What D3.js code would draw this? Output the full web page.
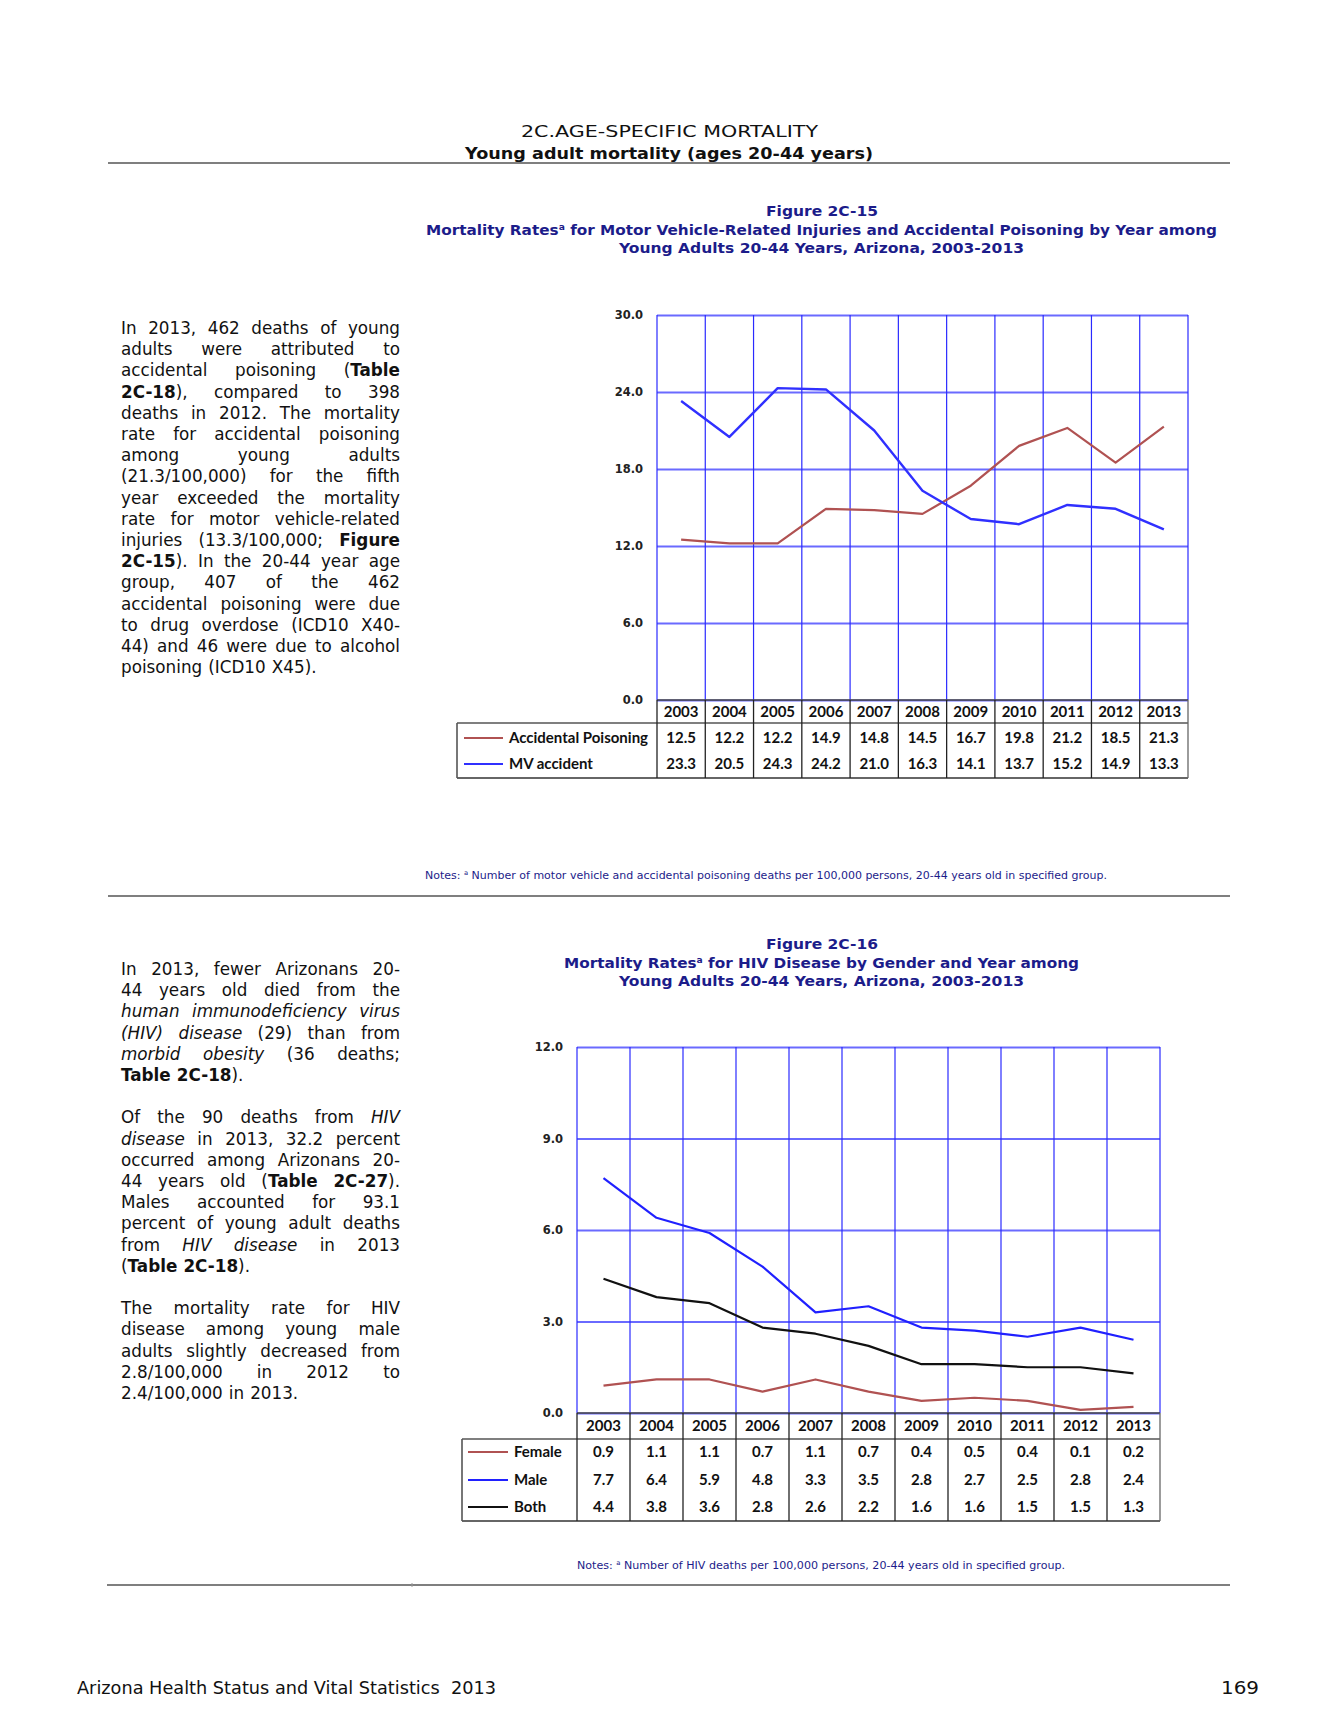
<!DOCTYPE html>
<html>
<head>
<meta charset="utf-8">
<script src="https://cdn.jsdelivr.net/npm/d3@7"></script>
<style>
  html, body { margin: 0; padding: 0; background: #fff; }
  svg { display: block; }
</style>
</head>
<body>
<script>
// ---------------- DATA ----------------
const years = ["2003","2004","2005","2006","2007","2008","2009","2010","2011","2012","2013"];

// Figure 2C-15
const poisoning  = [12.5, 12.2, 12.2, 14.9, 14.8, 14.5, 16.7, 19.8, 21.2, 18.5, 21.3];
const mvAccident = [23.3, 20.5, 24.3, 24.2, 21.0, 16.3, 14.1, 13.7, 15.2, 14.9, 13.3];
const yTicks1 = [0, 6, 12, 18, 24, 30];

// Figure 2C-16
const female = [0.9, 1.1, 1.1, 0.7, 1.1, 0.7, 0.4, 0.5, 0.4, 0.1, 0.2];
const male   = [7.7, 6.4, 5.9, 4.8, 3.3, 3.5, 2.8, 2.7, 2.5, 2.8, 2.4];
const both   = [4.4, 3.8, 3.6, 2.8, 2.6, 2.2, 1.6, 1.6, 1.5, 1.5, 1.3];
const yTicks2 = [0, 3, 6, 9, 12];

const series1Names = ["Accidental Poisoning", "MV accident"];
const series2Names = ["Female", "Male", "Both"];

// Text content
const para1 = [
  "In 2013, 462 deaths of young",
  "adults were attributed to",
  "accidental poisoning (**Table**",
  "**2C-18**), compared to 398",
  "deaths in 2012. The mortality",
  "rate for accidental poisoning",
  "among young adults",
  "(21.3/100,000) for the fifth",
  "year exceeded the mortality",
  "rate for motor vehicle-related",
  "injuries (13.3/100,000; **Figure**",
  "**2C-15**). In the 20-44 year age",
  "group, 407 of the 462",
  "accidental poisoning were due",
  "to drug overdose (ICD10 X40-",
  "44) and 46 were due to alcohol",
  "poisoning (ICD10 X45)."
];
const para2 = [
  "In 2013, fewer Arizonans 20-",
  "44 years old died from the",
  "*human immunodeficiency virus*",
  "*(HIV) disease* (29) than from",
  "*morbid obesity* (36 deaths;",
  "**Table 2C-18**)."
];
const para3 = [
  "Of the 90 deaths from *HIV*",
  "*disease* in 2013, 32.2 percent",
  "occurred among Arizonans 20-",
  "44 years old (**Table 2C-27**).",
  "Males accounted for 93.1",
  "percent of young adult deaths",
  "from *HIV disease* in 2013",
  "(**Table 2C-18**)."
];
const para4 = [
  "The mortality rate for HIV",
  "disease among young male",
  "adults slightly decreased from",
  "2.8/100,000 in 2012 to",
  "2.4/100,000 in 2013."
];

// ---------------- DRAW ----------------
const W = 1338, H = 1731;
const svg = d3.select("body").append("svg").attr("width", W).attr("height", H);
svg.append("rect").attr("width", W).attr("height", H).attr("fill", "#fff");

const NAVY = "#1c1c8a";
const BODYFONT = "'DejaVu Sans', Verdana, sans-serif";
const TABLEFONT = "Lato, 'Open Sans', sans-serif";

// header
svg.append("text").attr("x", 521).attr("y", 137)
  .attr("font-family", BODYFONT).attr("font-size", 16.5).attr("fill", "#111")
  .attr("textLength", 297).attr("lengthAdjust", "spacingAndGlyphs")
  .text("2C.AGE-SPECIFIC MORTALITY");
svg.append("text").attr("x", 465).attr("y", 159)
  .attr("font-family", BODYFONT).attr("font-size", 16.5).attr("font-weight", "bold").attr("fill", "#111")
  .attr("textLength", 408).attr("lengthAdjust", "spacingAndGlyphs")
  .text("Young adult mortality (ages 20-44 years)");

function rule(y, x1, x2) {
  svg.append("line").attr("x1", x1).attr("x2", x2).attr("y1", y).attr("y2", y)
    .attr("stroke", "#555").attr("stroke-width", 1.6);
}
rule(163, 108, 1230);
rule(896, 108, 1230);
rule(1585, 107, 1230);
svg.append("line").attr("x1", 412).attr("x2", 412).attr("y1", 1583).attr("y2", 1587)
  .attr("stroke", "#999").attr("stroke-width", 1);

// titles
function titleLine(x, y, len, parts, size) {
  const t = svg.append("text").attr("x", x).attr("y", y)
    .attr("font-family", BODYFONT).attr("font-size", size).attr("font-weight", "bold")
    .attr("fill", NAVY).attr("textLength", len).attr("lengthAdjust", "spacingAndGlyphs");
  parts.forEach(p => {
    const s = t.append("tspan").text(p.t);
    if (p.sup) s.attr("font-size", size * 0.6).attr("baseline-shift", "super");
  });
}
titleLine(766, 216, 112, [{t: "Figure 2C-15"}], 14.5);
titleLine(426, 235, 791, [{t: "Mortality Rates"}, {t: "a", sup: true}, {t: " for Motor Vehicle-Related Injuries and Accidental Poisoning by Year among"}], 14.5);
titleLine(619, 253, 405, [{t: "Young Adults 20-44 Years, Arizona, 2003-2013"}], 14.5);

titleLine(766, 949, 112, [{t: "Figure 2C-16"}], 14.5);
titleLine(564, 968, 515, [{t: "Mortality Rates"}, {t: "a", sup: true}, {t: " for HIV Disease by Gender and Year among"}], 14.5);
titleLine(619, 986, 405, [{t: "Young Adults 20-44 Years, Arizona, 2003-2013"}], 14.5);

// notes
function note(x, y, len, rest) {
  const t = svg.append("text").attr("x", x).attr("y", y)
    .attr("font-family", BODYFONT).attr("font-size", 10.5).attr("fill", NAVY)
    .attr("textLength", len).attr("lengthAdjust", "spacingAndGlyphs");
  t.append("tspan").text("Notes: ");
  t.append("tspan").text("a").attr("font-size", 6.5).attr("baseline-shift", "super");
  t.append("tspan").text(" " + rest);
}
note(425, 879, 682, "Number of motor vehicle and accidental poisoning deaths per 100,000 persons, 20-44 years old in specified group.");
note(577, 1569, 488, "Number of HIV deaths per 100,000 persons, 20-44 years old in specified group.");

// footer
svg.append("text").attr("x", 77).attr("y", 1694)
  .attr("font-family", BODYFONT).attr("font-size", 17).attr("fill", "#111")
  .attr("textLength", 419).attr("lengthAdjust", "spacingAndGlyphs")
  .text("Arizona Health Status and Vital Statistics\u00a0 2013");
svg.append("text").attr("x", 1221).attr("y", 1694)
  .attr("font-family", BODYFONT).attr("font-size", 17).attr("fill", "#111")
  .attr("textLength", 38).attr("lengthAdjust", "spacingAndGlyphs")
  .text("169");

// justified paragraphs
function parseLine(s) {
  const segs = [];
  const re = /\*\*([^*]+)\*\*|\*([^*]+)\*|([^*]+)/g;
  let m;
  while ((m = re.exec(s))) {
    if (m[1] != null) segs.push({t: m[1], b: true});
    else if (m[2] != null) segs.push({t: m[2], i: true});
    else segs.push({t: m[3]});
  }
  const words = [[]];
  segs.forEach(sg => {
    sg.t.split(" ").forEach((p, k) => {
      if (k > 0) words.push([]);
      if (p) words[words.length - 1].push(Object.assign({}, sg, {t: p}));
    });
  });
  return words.filter(w => w.length);
}
function paragraph(lines, x0, x1, y0, lh, fs) {
  const g = svg.append("g").attr("font-family", BODYFONT).attr("font-size", fs).attr("fill", "#111");
  lines.forEach((line, li) => {
    const words = parseLine(line);
    const y = y0 + li * lh;
    const nodes = words.map(w => {
      const t = g.append("text").attr("y", y);
      w.forEach(p => {
        const s = t.append("tspan").text(p.t);
        if (p.b) s.attr("font-weight", "bold");
        if (p.i) s.attr("font-style", "italic");
      });
      return {t, w: t.node().getComputedTextLength()};
    });
    const sum = d3.sum(nodes, n => n.w);
    const last = li === lines.length - 1;
    const gap = (!last && nodes.length > 1) ? (x1 - x0 - sum) / (nodes.length - 1) : fs * 0.36;
    let x = x0;
    nodes.forEach(n => { n.t.attr("x", x); x += n.w + gap; });
  });
}
const LH = 21.2;
const FS = 16.8;
paragraph(para1, 121, 400, 334, LH, FS);
paragraph(para2, 121, 400, 975, LH, FS);
paragraph(para3, 121, 400, 975 + 7 * LH, LH, FS);
paragraph(para4, 121, 400, 975 + 16 * LH, LH, FS);

// charts
function drawChart(cfg) {
  const g = svg.append("g");
  const x = d3.scaleBand().domain(years).range([cfg.left, cfg.right]).paddingInner(0).paddingOuter(0);
  const y = d3.scaleLinear().domain([0, cfg.yMax]).range([cfg.bottom, cfg.top]);
  const cx = d => x(d) + x.bandwidth() / 2;

  // horizontal gridlines + labels via axis
  const ax = g.append("g").attr("transform", `translate(${cfg.left},0)`)
    .call(d3.axisLeft(y).tickValues(cfg.ticks).tickFormat(d3.format(".1f"))
      .tickSize(-(cfg.right - cfg.left)).tickPadding(14));
  ax.select(".domain").remove();
  ax.selectAll(".tick line").attr("stroke", "#5a5aff").attr("stroke-width", 2).attr("stroke-opacity", 0.9);
  ax.selectAll(".tick text").attr("font-family", BODYFONT).attr("font-weight", "bold")
    .attr("font-size", 11.5).attr("fill", "#222");

  // vertical gridlines
  const bounds = years.map(d => x(d)).concat([cfg.right]);
  g.selectAll(".vgrid").data(bounds).enter().append("line")
    .attr("x1", d => d).attr("x2", d => d).attr("y1", cfg.top).attr("y2", cfg.bottom)
    .attr("stroke", "#2a2aff").attr("stroke-width", 1.2);

  // lines
  const line = d3.line().x((d, i) => cx(years[i])).y(d => y(d));
  cfg.series.forEach(s => {
    g.append("path").datum(s.values).attr("d", line)
      .attr("fill", "none").attr("stroke", s.color).attr("stroke-width", s.w)
      .attr("stroke-linejoin", "round");
  });

  // table lines
  const yearMid = (cfg.bottom + cfg.tableTop) / 2;
  const L = (x1, y1, x2, y2, c, w) => g.append("line").attr("x1", x1).attr("y1", y1)
    .attr("x2", x2).attr("y2", y2).attr("stroke", c).attr("stroke-width", w);
  L(cfg.left, cfg.bottom, cfg.right, cfg.bottom, "#444", 1.6);
  L(cfg.tableLeft, cfg.tableTop, cfg.right, cfg.tableTop, "#555", 1.6);
  L(cfg.tableLeft, cfg.tableBottom, cfg.right, cfg.tableBottom, "#666", 1.8);
  L(cfg.tableLeft, cfg.tableTop, cfg.tableLeft, cfg.tableBottom, "#555", 1.6);
  bounds.forEach((b, i) => L(b, cfg.bottom, b, cfg.tableBottom, i === bounds.length - 1 ? "#666" : "#222", 1.3));

  // year labels
  const tf = g.append("g").attr("font-family", TABLEFONT).attr("font-weight", "bold")
    .attr("font-size", 15).attr("fill", "#111");
  tf.selectAll(".yr").data(years).enter().append("text")
    .attr("x", d => cx(d)).attr("y", yearMid).attr("dy", "0.36em").attr("text-anchor", "middle")
    .text(d => d);

  // rows
  const fmt = d3.format(".1f");
  cfg.series.forEach((s, si) => {
    const ry = cfg.rowCenters[si];
    L(cfg.legendX1, ry, cfg.legendX2, ry, s.color, 2);
    tf.append("text").attr("x", cfg.labelX).attr("y", ry).attr("dy", "0.36em").text(s.name);
    tf.selectAll(null).data(s.values).enter().append("text")
      .attr("x", (d, i) => cx(years[i])).attr("y", ry).attr("dy", "0.36em")
      .attr("text-anchor", "middle").text(d => fmt(d));
  });
}

drawChart({
  left: 657, right: 1188, top: 315, bottom: 700, yMax: 30, ticks: yTicks1,
  tableLeft: 457, tableTop: 723, tableBottom: 778, rowCenters: [738, 764],
  legendX1: 464, legendX2: 503, labelX: 509,
  series: [
    {name: series1Names[0], values: poisoning, color: "#b05252", w: 2.2},
    {name: series1Names[1], values: mvAccident, color: "#3030ff", w: 2.4}
  ]
});

drawChart({
  left: 577, right: 1160, top: 1047, bottom: 1413, yMax: 12, ticks: yTicks2,
  tableLeft: 462, tableTop: 1439, tableBottom: 1521, rowCenters: [1452, 1480, 1507],
  legendX1: 468, legendX2: 508, labelX: 514,
  series: [
    {name: series2Names[0], values: female, color: "#b05252", w: 2.2},
    {name: series2Names[1], values: male, color: "#2020ff", w: 2.2},
    {name: series2Names[2], values: both, color: "#111111", w: 2.2}
  ]
});
</script>
</body>
</html>
